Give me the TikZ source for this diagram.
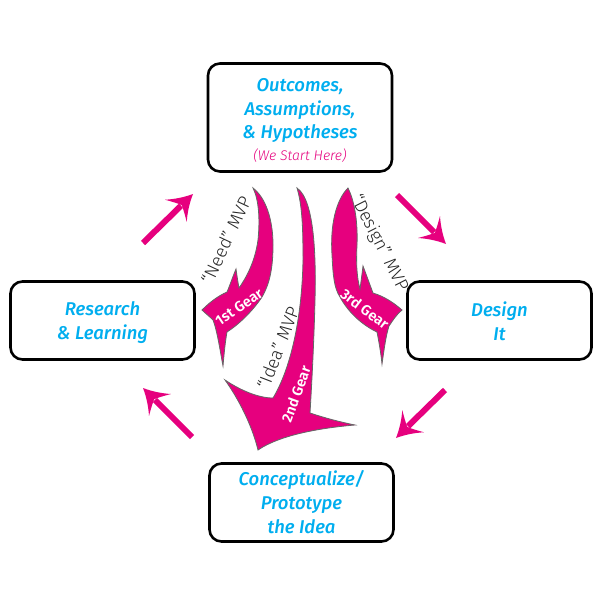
\documentclass[tikz,border=0pt]{standalone}
\usepackage{fontspec}
\setmainfont{Fira Sans}
\newfontfamily\boxfont{Fira Sans Medium Italic}
\newfontfamily\thinfont{Fira Sans Light}
\newfontfamily\thinit{Fira Sans Light Italic}
\newfontfamily\gearfont{Fira Sans SemiBold}
\usetikzlibrary{arrows.meta}
\pgfdeclarearrow{
  name=Concave,
  parameters={\the\pgfarrowlength,\the\pgfarrowwidth},
  setup code={
    \pgfarrowssettipend{\pgfarrowlength}
    \pgfarrowssetlineend{.3\pgfarrowlength}
    \pgfarrowssetbackend{0pt}
    \pgfarrowssavethe\pgfarrowlength
    \pgfarrowssavethe\pgfarrowwidth
  },
  drawing code={
    \pgfpathmoveto{\pgfqpoint{\pgfarrowlength}{0pt}}
    \pgfpathcurveto{\pgfqpoint{.62\pgfarrowlength}{.13\pgfarrowwidth}}{\pgfqpoint{.28\pgfarrowlength}{.31\pgfarrowwidth}}{\pgfqpoint{0pt}{.5\pgfarrowwidth}}
    \pgfpathcurveto{\pgfqpoint{.15\pgfarrowlength}{.3\pgfarrowwidth}}{\pgfqpoint{.28\pgfarrowlength}{.12\pgfarrowwidth}}{\pgfqpoint{.34\pgfarrowlength}{0pt}}
    \pgfpathcurveto{\pgfqpoint{.28\pgfarrowlength}{-.12\pgfarrowwidth}}{\pgfqpoint{.15\pgfarrowlength}{-.3\pgfarrowwidth}}{\pgfqpoint{0pt}{-.5\pgfarrowwidth}}
    \pgfpathcurveto{\pgfqpoint{.28\pgfarrowlength}{-.31\pgfarrowwidth}}{\pgfqpoint{.62\pgfarrowlength}{-.13\pgfarrowwidth}}{\pgfqpoint{\pgfarrowlength}{0pt}}
    \pgfpathclose
    \pgfusepathqfill
  },
  defaults={length=23pt, width=30pt}
}
\definecolor{pk}{RGB}{230,0,126}
\definecolor{cy}{RGB}{0,174,239}
\begin{document}
\begin{tikzpicture}[x=1pt,y=-1pt,
  box/.style={draw=black, line width=2.6pt, rounded corners=12pt, minimum width=184pt,
    align=center, font=\boxfont\fontsize{18.5}{24}\selectfont, text=cy, inner sep=0pt},
  boxtext/.style={align=center, font=\boxfont\fontsize{18.5}{23.5}\selectfont, text=cy, inner sep=0pt},
  cyc/.style={pk, line width=6pt, -{Concave[length=24pt,width=31pt]}},
  gear/.style={fill=pk, draw=black!60, line width=0.8pt},
  mvp/.style={font=\thinfont\fontsize{18}{18}\selectfont, text=black!85, inner sep=0pt},
  glab/.style={font=\gearfont\fontsize{14.5}{15}\selectfont, text=white, inner sep=0pt}
]
\useasboundingbox (0,0) rectangle (599,599);
\fill[white] (0,0) rectangle (599,599);

% boxes
\node[box, minimum height=108pt] (out) at (300,117.5) {};
\node[boxtext, yshift=-3pt] (outtxt) at (out.center)
  {Outcomes,\\Assumptions,\\\& Hypotheses\\[-2pt]{\thinit\color{pk}\fontsize{14}{15}\selectfont(We Start Here)}};
\node[box, minimum height=78pt] (res) at (102.5,320.5) {};
\node[boxtext, yshift=-2pt] (restxt) at (res.center) {Research\\\& Learning};
\node[box, minimum height=78pt] (des) at (499.5,320.5) {};
\node[boxtext, yshift=-1pt] (destxt) at (des.center) {Design\\It};
\node[box, minimum height=78pt] (con) at (301.5,502.5) {Conceptualize/\\Prototype\\the Idea};

% cycle arrows
\coordinate (a1s) at (143,243); \coordinate (a1e) at (193,194);
\coordinate (a2s) at (397,195); \coordinate (a2e) at (446,244);
\coordinate (a3s) at (445,390); \coordinate (a3e) at (396,438);
\coordinate (a4s) at (192,437); \coordinate (a4e) at (143,388);
\draw[cyc] (a1s) -- (a1e);
\draw[cyc] (a2s) -- (a2e);
\draw[cyc] (a3s) -- (a3e);
\draw[cyc] (a4s) -- (a4e);

% 1st gear
\path[gear] (253,188) .. controls (266,198) and (273,220) .. (273,245)
  .. controls (273,270) and (269,285) .. (262,297)
  .. controls (252,312) and (238,325) .. (227,332)
  .. controls (225,343) and (224,355) .. (223,366)
  .. controls (220,350) and (217,330) .. (213,320)
  .. controls (209,316) and (205,313) .. (202,310)
  .. controls (210,302) and (218,296) .. (227,292)
  .. controls (230,285) and (233,276) .. (236,269)
  .. controls (237,276) and (238,283) .. (239,288)
  .. controls (246,278) and (255,262) .. (258,240)
  .. controls (260,220) and (259,200) .. (253,188) -- cycle;
% 3rd gear
\path[gear] (348,188) .. controls (336,200) and (330,225) .. (332,255)
  .. controls (333,275) and (334,288) .. (340,297)
  .. controls (348,312) and (362,325) .. (377,332)
  .. controls (379,342) and (381,354) .. (382,364)
  .. controls (384,350) and (386,335) .. (389,326)
  .. controls (393,320) and (397,314) .. (402,310)
  .. controls (393,302) and (383,296) .. (373,293)
  .. controls (370,285) and (366,274) .. (363,266)
  .. controls (362,274) and (361,282) .. (360,289)
  .. controls (357,278) and (356,265) .. (357,245)
  .. controls (358,220) and (354,200) .. (348,188) -- cycle;
% 2nd gear
\path[gear] (297,188) .. controls (315,200) and (316,260) .. (315,300)
  .. controls (314,340) and (312,380) .. (310,413)
  .. controls (325,418) and (340,422) .. (355,425)
  .. controls (320,428) and (280,435) .. (258,450)
  .. controls (252,425) and (238,398) .. (225,380)
  .. controls (240,390) and (258,398) .. (273,398)
  .. controls (290,370) and (302,320) .. (303,260)
  .. controls (303,225) and (302,205) .. (297,188) -- cycle;

% labels
\node[mvp, rotate=65] (need) at (226,240) {“Need” MVP};
\node[glab, rotate=34] (g1) at (239,307) {1st Gear};
\node[mvp, rotate=69] (idea) at (278,348) {“Idea” MVP};
\node[glab, rotate=70] (g2) at (296,394) {2nd Gear};
\node[mvp, rotate=-63] (design) at (379,243) {“Design” MVP};
\node[glab, rotate=-37] (g3) at (365,309) {3rd Gear};
\end{tikzpicture}
\end{document}
